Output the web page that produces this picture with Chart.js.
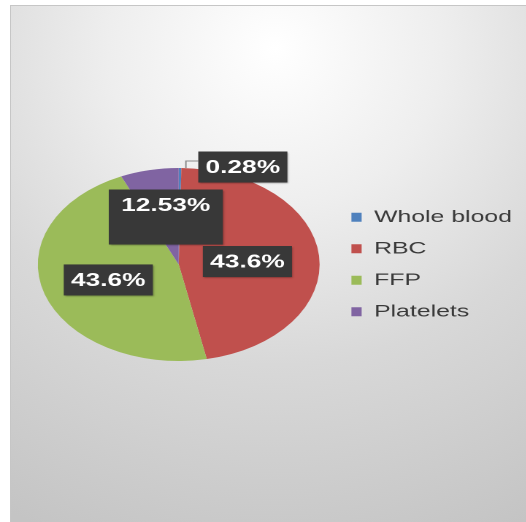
<!DOCTYPE html>
<html>
<head>
<meta charset="utf-8">
<script src="https://cdn.jsdelivr.net/npm/chart.js@4/dist/chart.umd.min.js"></script>
<style>
  html, body { margin: 0; padding: 0; background: #fff; overflow: hidden; }
  body { width: 526px; height: 522px; position: relative; }
  #frame {
    position: absolute; left: 10px; top: 5px; width: 530px; height: 530px;
    box-sizing: border-box; border: 1px solid #c6c6c6;
    background: radial-gradient(ellipse 105% 100% at 50% 8%, #ffffff 0%, #eeeeee 30%, #d8d8d8 60%, #c4c4c4 100%);
  }
  /* the original picture is stretched sideways, so the whole chart is too */
  #wrap {
    position: absolute; left: 0; top: 0; width: 370px; height: 522px;
    transform: scaleX(1.46); transform-origin: 0 0;
  }
</style>
</head>
<body>
<div id="frame"></div>
<div id="wrap"><canvas id="pieChart"></canvas></div>
<script>
const categories = ["Whole blood", "RBC", "FFP", "Platelets"];
// slice sizes as drawn in the picture (the platelets wedge is drawn smaller than its label says)
const sliceValues = [0.28, 43.6, 43.6, 6.27];
// the percentage labels printed on the chart
const labelTexts = ["0.28%", "43.6%", "43.6%", "12.53%"];
const sliceColors = ["#4F81BD", "#C0504D", "#9BBB59", "#8064A2"];

// where each dark label box sits, relative to the slice
// [dx, dy, outside?, extra box width, extra box height]
const labelNudge = [
  [43, -1, true, 0, 0],
  [-1, 1.4, false, 0, 0],
  [-2.3, 0.7, false, 0, 0],
  [1.2, -12.3, false, 7, 24]
];

const boxLabels = {
  id: "boxLabels",
  afterDatasetsDraw(chart) {
    const ctx = chart.ctx;
    const meta = chart.getDatasetMeta(0);
    ctx.save();
    ctx.font = "bold 18px 'Liberation Sans', Arial, sans-serif";
    ctx.textAlign = "center";
    ctx.textBaseline = "middle";
    meta.data.forEach((arc, i) => {
      const [dx, dy, outside, extraW, extraH] = labelNudge[i];
      const text = labelTexts[i];
      let ax, ay;
      const mid = (arc.startAngle + arc.endAngle) / 2;
      if (outside) {
        ax = arc.x + Math.cos(mid) * arc.outerRadius;
        ay = arc.y + Math.sin(mid) * arc.outerRadius;
      } else {
        const p = arc.tooltipPosition();
        ax = p.x; ay = p.y;
      }
      const tx = ax + dx, ty = ay + dy;
      const w = ctx.measureText(text).width + 10 + extraW;
      const h = 31;
      const left = tx - w / 2, top = ty - h / 2;

      if (outside) {
        ctx.strokeStyle = "#8a8a8a";
        ctx.lineWidth = 1;
        ctx.beginPath();
        ctx.moveTo(ax + 4, ay);
        ctx.lineTo(ax + 4, ay - 7);
        ctx.lineTo(left, ay - 7);
        ctx.stroke();
      }

      ctx.shadowColor = "rgba(0,0,0,0.35)";
      ctx.shadowBlur = 3;
      ctx.shadowOffsetX = 1.5;
      ctx.shadowOffsetY = 2;
      ctx.fillStyle = "#383838";
      ctx.fillRect(left, top, w, h + extraH);
      ctx.shadowColor = "transparent";
      ctx.fillStyle = "#ffffff";
      ctx.fillText(text, tx, ty + 1);
    });
    ctx.restore();
  }
};

const pieCtx = document.getElementById("pieChart").getContext("2d");
new Chart(pieCtx, {
  type: "pie",
  data: {
    labels: categories,
    datasets: [{
      data: sliceValues,
      backgroundColor: sliceColors,
      borderWidth: 0,
      radius: 96.5
    }]
  },
  options: {
    animation: false,
    responsive: true,
    maintainAspectRatio: false,
    devicePixelRatio: 2,
    layout: {
      padding: { left: 18.6, right: 9.3, top: 20, bottom: 13 }
    },
    plugins: {
      tooltip: { enabled: false },
      legend: {
        position: "right",
        align: "center",
        labels: {
          boxWidth: 7,
          boxHeight: 9,
          padding: 14.5,
          color: "#3a3a3a",
          font: {
            size: 17,
            family: "'Liberation Sans', Arial, sans-serif"
          }
        }
      }
    }
  },
  plugins: [boxLabels]
});
</script>
</body>
</html>
